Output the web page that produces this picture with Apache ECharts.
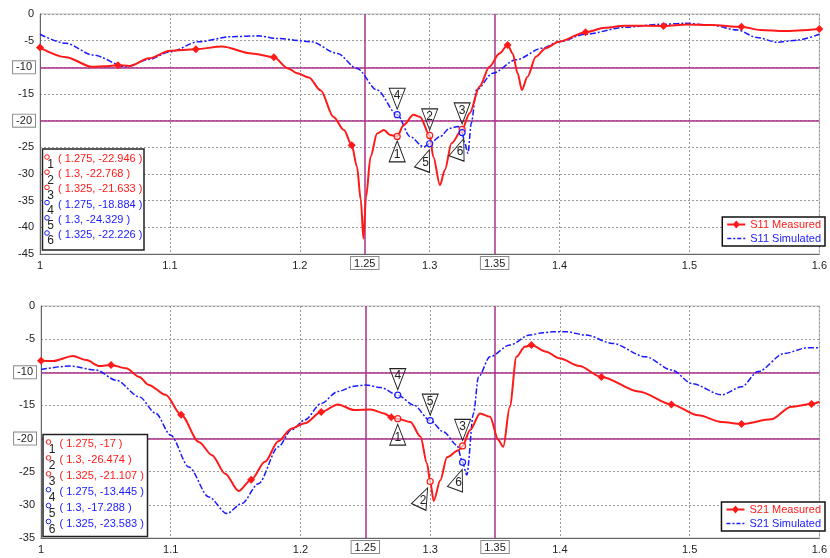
<!DOCTYPE html>
<html><head><meta charset="utf-8">
<script src="https://cdn.jsdelivr.net/npm/echarts@6/dist/echarts.min.js"></script>
<style>html,body{margin:0;padding:0;background:#fff}#c{width:830px;height:558px}</style>
</head><body><div id="c"></div>
<script>
// ---------- DATA ----------
const xTickRange = [1, 1.6];
const s11Names = ['S11 Measured', 'S11 Simulated'];
const s21Names = ['S21 Measured', 'S21 Simulated'];
const refH = [-10, -20];
const refV = [1.25, 1.35];

const s11Measured = [
 [1.000,-6.3],[1.020,-8.1],[1.040,-9.9],[1.050,-9.8],[1.060,-9.6],[1.069,-9.75],[1.084,-8.3],
 [1.100,-6.9],[1.120,-6.6],[1.140,-6.1],[1.163,-7.4],[1.180,-8.1],[1.191,-10.2],[1.198,-11.1],
 [1.207,-11.9],[1.216,-14.3],[1.226,-19.3],[1.234,-21.75],[1.240,-24.6],[1.244,-28.6],[1.247,-34.9],
 [1.249,-42.1],[1.251,-34.3],[1.2545,-26.75],[1.2595,-22.4],[1.2647,-21.75],[1.2697,-22.7],
 [1.275,-22.946],[1.280,-20.8],[1.2875,-18.9],[1.2926,-19.3],[1.300,-22.768],[1.3028,-26.75],
 [1.3079,-32.1],[1.3117,-29.25],[1.3168,-24.25],[1.325,-21.633],[1.3308,-18.6],[1.3384,-13.6],
 [1.346,-9.9],[1.3537,-7.4],[1.360,-5.8],[1.3639,-7.4],[1.3677,-11.1],[1.371,-14.25],[1.3753,-11.75],
 [1.3817,-8.0],[1.3893,-6.4],[1.3995,-5.2],[1.420,-3.4],[1.435,-2.6],[1.450,-2.2],[1.480,-2.25],
 [1.4987,-1.95],[1.5165,-2.06],[1.540,-2.4],[1.5547,-3.0],[1.5725,-3.2],[1.600,-2.8]
];
const s11Simulated = [
 [1.000,-3.8],[1.020,-5.5],[1.041,-7.7],[1.066,-9.9],[1.084,-8.5],[1.100,-7.1],[1.122,-5.2],
 [1.1476,-4.25],[1.168,-4.1],[1.183,-4.6],[1.2087,-5.2],[1.229,-7.4],[1.244,-10.2],[1.2595,-14.25],
 [1.275,-18.884],[1.285,-23.0],[1.2952,-24.9],[1.300,-24.329],[1.3079,-23.0],[1.3155,-21.4],
 [1.322,-21.1],[1.325,-22.226],[1.327,-24.25],[1.3295,-26.1],[1.332,-20.5],[1.336,-14.25],
 [1.3486,-11.1],[1.3664,-8.6],[1.3868,-6.4],[1.3995,-5.2],[1.420,-3.8],[1.450,-2.5],[1.478,-1.94],
 [1.496,-1.75],[1.5165,-2.06],[1.537,-3.0],[1.552,-4.4],[1.5674,-5.3],[1.5827,-4.9],[1.600,-3.8]
];
const s21Measured = [
 [1.000,-8.26],[1.0094,-8.3],[1.0247,-7.55],[1.035,-8.16],[1.045,-9.06],[1.054,-8.9],[1.0656,-9.4],
 [1.0758,-10.7],[1.083,-11.9],[1.096,-13.4],[1.108,-16.4],[1.1217,-20.5],[1.1318,-22.5],[1.142,-25.3],
 [1.1523,-27.9],[1.162,-26.2],[1.1727,-23.5],[1.1829,-20.4],[1.193,-18.5],[1.2033,-17.7],[1.216,-16.0],
 [1.2288,-14.85],[1.2415,-15.7],[1.2542,-15.6],[1.2645,-16.2],[1.270,-16.8],[1.275,-17.0],[1.2848,-17.5],
 [1.2925,-19.7],[1.2976,-23.8],[1.300,-26.474],[1.3027,-29.4],[1.3078,-26.3],[1.3129,-22.8],
 [1.3219,-21.75],[1.325,-21.107],[1.3308,-18.7],[1.3384,-16.2],[1.3461,-16.7],[1.3525,-20.2],
 [1.3563,-21.25],[1.3614,-15.2],[1.3665,-7.66],[1.3729,-6.15],[1.378,-5.9],[1.3894,-6.9],[1.3996,-7.9],
 [1.415,-9.06],[1.432,-10.7],[1.4608,-12.9],[1.486,-14.85],[1.5067,-16.5],[1.5246,-17.5],[1.540,-17.8],
 [1.5629,-17.1],[1.5782,-15.2],[1.594,-14.8],[1.600,-14.45]
];
const s21Simulated = [
 [1.000,-9.57],[1.022,-9.06],[1.0426,-9.67],[1.0579,-11.2],[1.0758,-13.7],[1.0885,-16.2],[1.100,-19.5],
 [1.114,-24.3],[1.1293,-28.8],[1.1433,-31.3],[1.1548,-29.8],[1.1676,-26.8],[1.183,-21.25],[1.193,-18.7],
 [1.2033,-17.2],[1.216,-14.7],[1.2288,-12.9],[1.2415,-12.1],[1.2504,-11.9],[1.2619,-12.3],[1.275,-13.445],
 [1.2874,-14.95],[1.300,-17.288],[1.3104,-19.0],[1.3206,-21.0],[1.325,-23.583],[1.3282,-25.5],
 [1.3334,-16.2],[1.3372,-10.7],[1.3461,-7.66],[1.3614,-5.9],[1.3767,-4.38],[1.3869,-4.03],[1.3946,-3.88],
 [1.4047,-3.88],[1.420,-4.38],[1.4405,-5.64],[1.466,-7.66],[1.4864,-9.67],[1.5017,-11.7],[1.5246,-13.4],
 [1.540,-12.2],[1.5527,-9.9],[1.5731,-7.15],[1.5909,-6.3],[1.600,-6.3]
];
const s11MeasMarkX = [1, 1.06, 1.12, 1.18, 1.24, 1.36, 1.42, 1.48, 1.54, 1.6];
const s21MeasMarkX = [1, 1.054, 1.108, 1.162, 1.216, 1.27, 1.378, 1.432, 1.486, 1.54, 1.594];

const s11MarkMeas = [[1.275,-22.946],[1.3,-22.768],[1.325,-21.633]];
const s11MarkSim  = [[1.275,-18.884],[1.3,-24.329],[1.325,-22.226]];
const s21MarkMeas = [[1.275,-17],[1.3,-26.474],[1.325,-21.107]];
const s21MarkSim  = [[1.275,-13.445],[1.3,-17.288],[1.325,-23.583]];

// ---------- STYLE ----------
const FONT = 'Liberation Sans';
const RED = '#ff1a1a', BLUE = '#1a1aff', PURPLE = '#a8308a';
const DOWN = 'path://M0,0L15,0L7.5,20Z';
const UP = 'path://M7.5,0L15,20L0,20Z';
const MEAS_ICON = 'path://M0,3.5H18V5.5H0Z M9,0.5L12.5,4.5L9,8.5L5.5,4.5Z';
const SIM_ICON = 'path://M0,4H4V5.5H0Z M6,4H8V5.5H6Z M10,4H14V5.5H10Z M16,4H18V5.5H16Z';

const calloutTop = [
  {dir:'up', off:[0,15]}, {dir:'down', off:[0,-16]}, {dir:'down', off:[0,-16]},
  {dir:'down', off:[0,-16]}, {dir:'up', off:[-4,16], rot:-20}, {dir:'up', off:[-2,16], rot:-20}
];
const calloutBot = [
  {dir:'up', off:[0,16]}, {dir:'up', off:[-7,16], rot:-25}, {dir:'down', off:[0,-16]},
  {dir:'down', off:[0,-16]}, {dir:'down', off:[0,-16]}, {dir:'up', off:[-4,17], rot:-20}
];

function callouts(points, startNum, kinds, color) {
  const out = [];
  points.forEach((p, i) => {
    const k = kinds[startNum - 1 + i];
    out.push({coord: p, symbol: 'circle', symbolSize: 6,
      itemStyle: {color: 'rgba(255,255,255,0.6)', borderColor: color, borderWidth: 1.2},
      label: {show: false}});
    out.push({coord: p, symbol: k.dir === 'down' ? DOWN : UP, symbolSize: [16, 21],
      symbolOffset: k.off, symbolRotate: k.rot || 0,
      itemStyle: {color: 'rgba(255,255,255,0)', borderColor: '#222', borderWidth: 1},
      label: {show: true, position: 'inside', formatter: String(startNum + i),
        offset: k.dir === 'down' ? [0, -3] : [0, 3], color: '#222', fontSize: 12, fontFamily: FONT}});
  });
  return out;
}

function markSymbol(marks) {
  return function (v) {
    return marks.some(m => Math.abs(m - v[0]) < 1e-6) ? 'diamond' : 'none';
  };
}

function refLines() {
  const data = [];
  refH.forEach(v => data.push({yAxis: v, label: {distance: 5}}));
  refV.forEach(v => data.push({xAxis: v, label: {distance: 3}}));
  return {
    silent: true, symbol: 'none', z: 1, animation: false,
    lineStyle: {color: PURPLE, width: 1.5, type: 'solid'},
    label: {show: true, position: 'start', formatter: p => String(p.value), color: '#222',
      fontSize: 11, fontFamily: FONT, backgroundColor: '#fff', borderColor: '#8a8a8a',
      borderWidth: 1, padding: [1, 3, 0, 3]},
    emphasis: {disabled: true},
    data: data
  };
}

function xAx(gi) {
  return {type: 'value', gridIndex: gi, min: xTickRange[0], max: xTickRange[1], interval: 0.1,
    axisLine: {show: true, onZero: false, lineStyle: {color: '#666'}},
    axisTick: {show: false},
    axisLabel: {color: '#222', fontSize: 11, fontFamily: FONT, margin: 6},
    splitLine: {show: true, lineStyle: {color: '#999', type: [2, 2]}}};
}
function yAx(gi, min) {
  return {type: 'value', gridIndex: gi, min: min, max: 0, interval: 5,
    axisLine: {show: true, onZero: false, lineStyle: {color: '#666'}},
    axisTick: {show: false},
    axisLabel: {color: '#222', fontSize: 11, fontFamily: FONT, margin: 6,
      formatter: v => refH.indexOf(v) >= 0 ? '' : String(v)},
    splitLine: {show: true, lineStyle: {color: '#999', type: [2, 2]}}};
}

function legend(names, top) {
  return {orient: 'vertical', right: 5, top: top, selectedMode: false,
    backgroundColor: '#fff', borderColor: '#111', borderWidth: 1.5, padding: [2, 4, 2, 5],
    itemWidth: 18, itemHeight: 8, itemGap: 3,
    textStyle: {fontSize: 11, fontFamily: FONT},
    data: [
      {name: names[0], icon: MEAS_ICON, textStyle: {color: RED}},
      {name: names[1], icon: SIM_ICON, textStyle: {color: BLUE}}
    ]};
}

function readout(box, meas, sim) {
  const Z = 50;
  const children = [{type: 'rect', z: Z, shape: {x: box.x, y: box.y, width: box.w, height: box.h},
    style: {fill: '#fff', stroke: '#222', lineWidth: 1.5}}];
  const rows = meas.map(p => [p, RED]).concat(sim.map(p => [p, BLUE]));
  rows.forEach((r, i) => {
    const yc = box.firstY + i * box.pitch;
    children.push({type: 'circle', z: Z + 1, shape: {cx: box.cx, cy: yc - 2, r: 2.3},
      style: {fill: 'none', stroke: r[1], lineWidth: 1}});
    children.push({type: 'text', z: Z + 1, x: box.numX, y: yc + 6,
      style: {text: String(i + 1), fill: '#222', font: '12px ' + FONT, align: 'center', verticalAlign: 'middle'}});
    children.push({type: 'text', z: Z + 1, x: box.textX, y: yc,
      style: {text: '( ' + r[0][0] + ', ' + r[0][1] + ' )', fill: r[1], font: '11px ' + FONT, verticalAlign: 'middle'}});
  });
  return {type: 'group', z: Z, children: children};
}

const chart = echarts.init(document.getElementById('c'), null, {renderer: 'canvas'});
chart.setOption({
  animation: false,
  backgroundColor: '#fff',
  grid: [
    {left: 40, top: 14, width: 786, height: 240, show: true, borderColor: '#bbb', borderWidth: 1},
    {left: 41, top: 306, width: 785, height: 232, show: true, borderColor: '#bbb', borderWidth: 1}
  ],
  xAxis: [xAx(0), xAx(1)],
  yAxis: [yAx(0, -45), yAx(1, -35)],
  legend: [legend(s11Names, 217), legend(s21Names, 502)],
  series: [
    {name: s11Names[0], type: 'line', xAxisIndex: 0, yAxisIndex: 0, data: s11Measured,
     smooth: 0.3, smoothMonotone: 'x', symbol: markSymbol(s11MeasMarkX), symbolSize: 8, showSymbol: true,
     lineStyle: {color: RED, width: 2}, itemStyle: {color: RED}, z: 3,
     markLine: refLines(), markPoint: {animation: false, data: callouts(s11MarkMeas, 1, calloutTop, RED)}},
    {name: s11Names[1], type: 'line', xAxisIndex: 0, yAxisIndex: 0, data: s11Simulated,
     smooth: 0.3, smoothMonotone: 'x', symbol: 'none',
     lineStyle: {color: BLUE, width: 1.5, type: [6, 2, 2, 2]}, itemStyle: {color: BLUE}, z: 2,
     markPoint: {animation: false, data: callouts(s11MarkSim, 4, calloutTop, BLUE)}},
    {name: s21Names[0], type: 'line', xAxisIndex: 1, yAxisIndex: 1, data: s21Measured,
     smooth: 0.3, smoothMonotone: 'x', symbol: markSymbol(s21MeasMarkX), symbolSize: 8, showSymbol: true,
     lineStyle: {color: RED, width: 2}, itemStyle: {color: RED}, z: 3,
     markLine: refLines(), markPoint: {animation: false, data: callouts(s21MarkMeas, 1, calloutBot, RED)}},
    {name: s21Names[1], type: 'line', xAxisIndex: 1, yAxisIndex: 1, data: s21Simulated,
     smooth: 0.3, smoothMonotone: 'x', symbol: 'none',
     lineStyle: {color: BLUE, width: 1.5, type: [6, 2, 2, 2]}, itemStyle: {color: BLUE}, z: 2,
     markPoint: {animation: false, data: callouts(s21MarkSim, 4, calloutBot, BLUE)}}
  ],
  graphic: [
    readout({x: 42.5, y: 149, w: 101.5, h: 101, firstY: 159, pitch: 15.2, cx: 47, numX: 50.5, textX: 58},
      s11MarkMeas, s11MarkSim),
    readout({x: 43, y: 434.5, w: 104.5, h: 102, firstY: 444, pitch: 15.9, cx: 48.5, numX: 52, textX: 59.5},
      s21MarkMeas, s21MarkSim)
  ]
});
</script></body></html>
